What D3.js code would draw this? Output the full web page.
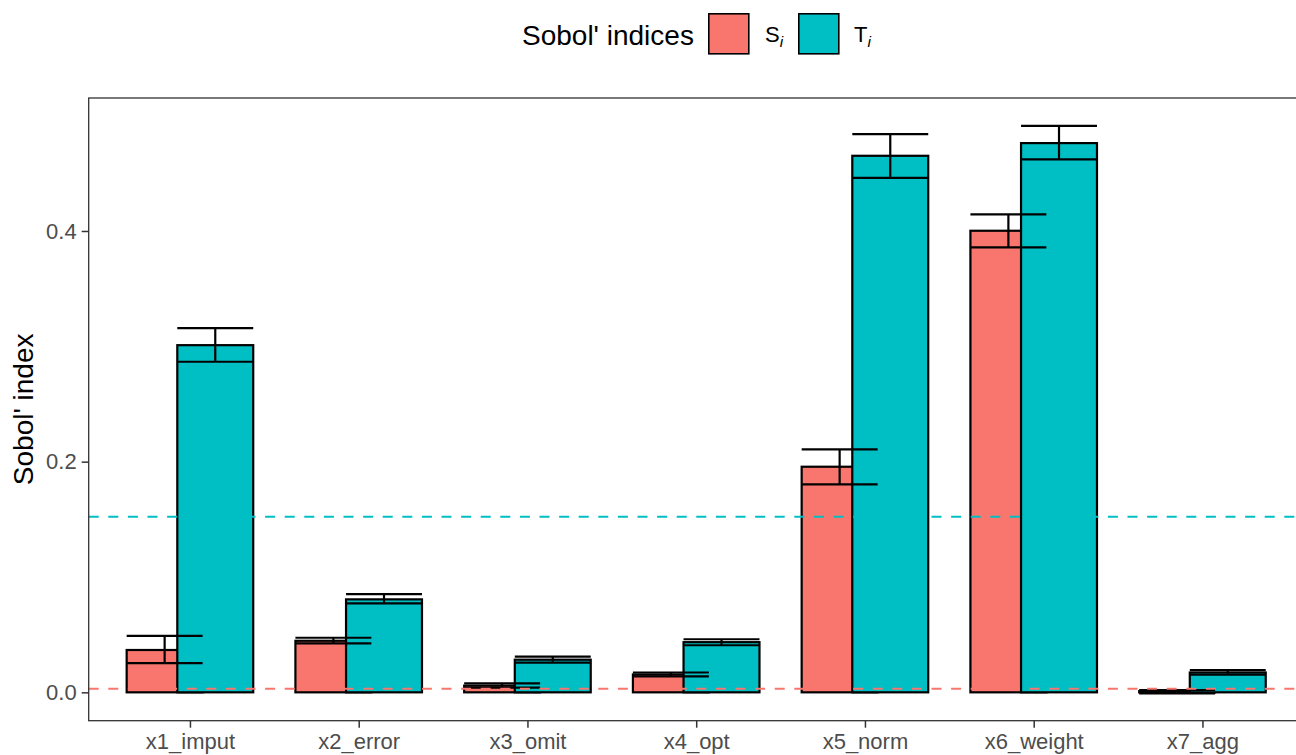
<!DOCTYPE html>
<html>
<head>
<meta charset="utf-8">
<script src="https://cdn.jsdelivr.net/npm/d3@7"></script>
<style>
  html, body { margin: 0; padding: 0; background: #fff; }
  svg { display: block; font-family: "Liberation Sans", Arial, sans-serif; }
</style>
</head>
<body>
<svg id="chart" width="1296" height="755"></svg>
<script>
const categories = ["x1_imput", "x2_error", "x3_omit", "x4_opt", "x5_norm", "x6_weight", "x7_agg"];
const S      = [0.0367, 0.0447, 0.0058, 0.0155, 0.1956, 0.4002, 0.0010];
const S_low  = [0.0254, 0.0425, 0.0040, 0.0138, 0.1803, 0.3858, -0.0010];
const S_high = [0.0490, 0.0473, 0.0078, 0.0172, 0.2107, 0.4144, 0.0020];
const T      = [0.3010, 0.0806, 0.0283, 0.0435, 0.4652, 0.4762, 0.0172];
const T_low  = [0.2866, 0.0772, 0.0257, 0.0408, 0.4461, 0.4621, 0.0153];
const T_high = [0.3158, 0.0852, 0.0309, 0.0460, 0.4840, 0.4912, 0.0193];
const yTicks = [0.0, 0.2, 0.4];
const dummyS = 0.0031;
const dummyT = 0.1523;
const seriesNames = ["S", "T"];
const seriesColors = ["#F8766D", "#00BFC4"];

const svg = d3.select("#chart");
const panel = { left: 88.7, top: 98, bottom: 720.7, right: 1303.7 };

const x = d3.scalePoint().domain(categories).range([panel.left, panel.right]).padding(0.6);
const step = x.step();
const barW = 0.45 * step;
const dodge = 0.15 * step;
const y = d3.scaleLinear().domain([-0.0246, 0.5153]).range([panel.bottom, panel.top]);

const series = [
  { name: "S", vals: S, lo: S_low, hi: S_high, off: -dodge, color: seriesColors[0] },
  { name: "T", vals: T, lo: T_low, hi: T_high, off: dodge, color: seriesColors[1] }
];

const g = svg.append("g");

// bars
series.forEach(s => {
  g.selectAll(null).data(categories).enter().append("rect")
    .attr("x", d => x(d) + s.off - barW / 2)
    .attr("width", barW)
    .attr("y", (d, i) => y(Math.max(0, s.vals[i])))
    .attr("height", (d, i) => Math.abs(y(0) - y(s.vals[i])))
    .attr("fill", s.color)
    .attr("stroke", "#000")
    .attr("stroke-width", 2.2);
});

// error bars
series.forEach(s => {
  const eb = g.selectAll(null).data(categories).enter().append("g")
    .attr("stroke", "#000").attr("stroke-width", 2.2).attr("fill", "none");
  eb.append("line")
    .attr("x1", d => x(d) + s.off).attr("x2", d => x(d) + s.off)
    .attr("y1", (d, i) => y(s.lo[i])).attr("y2", (d, i) => y(s.hi[i]));
  eb.append("line")
    .attr("x1", d => x(d) + s.off - barW / 2).attr("x2", d => x(d) + s.off + barW / 2)
    .attr("y1", (d, i) => y(s.hi[i])).attr("y2", (d, i) => y(s.hi[i]));
  eb.append("line")
    .attr("x1", d => x(d) + s.off - barW / 2).attr("x2", d => x(d) + s.off + barW / 2)
    .attr("y1", (d, i) => y(s.lo[i])).attr("y2", (d, i) => y(s.lo[i]));
});

// dummy hlines
[[dummyS, seriesColors[0]], [dummyT, seriesColors[1]]].forEach(([v, c]) => {
  g.append("line")
    .attr("x1", panel.left).attr("x2", panel.right)
    .attr("y1", y(v)).attr("y2", y(v))
    .attr("stroke", c).attr("stroke-width", 2)
    .attr("stroke-dasharray", "10,9.6");
});

// panel border
svg.append("rect")
  .attr("x", panel.left).attr("y", panel.top)
  .attr("width", panel.right - panel.left).attr("height", panel.bottom - panel.top)
  .attr("fill", "none").attr("stroke", "#333333").attr("stroke-width", 1.3);

// y axis
const yAxis = d3.axisLeft(y).tickValues(yTicks).tickFormat(d3.format(".1f")).tickSize(7).tickPadding(5);
const ya = svg.append("g").attr("transform", `translate(${panel.left},0)`).call(yAxis);
ya.select(".domain").remove();
ya.selectAll(".tick line").attr("stroke", "#333333").attr("stroke-width", 1.5);
ya.selectAll(".tick text").attr("fill", "#4D4D4D").style("font-size", "22px")
  .style("font-family", "'Liberation Sans', Arial, sans-serif");

// x axis
const xAxis = d3.axisBottom(x).tickSize(7).tickPadding(6);
const xa = svg.append("g").attr("transform", `translate(0,${panel.bottom})`).call(xAxis);
xa.select(".domain").remove();
xa.selectAll(".tick line").attr("stroke", "#333333").attr("stroke-width", 1.5);
xa.selectAll(".tick text").attr("fill", "#4D4D4D").style("font-size", "22px")
  .style("font-family", "'Liberation Sans', Arial, sans-serif");

// y title
svg.append("text")
  .attr("transform", `translate(33,${(panel.top + panel.bottom) / 2}) rotate(-90)`)
  .attr("text-anchor", "middle")
  .style("font-size", "28px").attr("fill", "#000")
  .text("Sobol' index");

// legend
const leg = svg.append("g");
leg.append("text").attr("x", 522).attr("y", 45.4)
  .style("font-size", "28px").attr("fill", "#000").text("Sobol' indices");
const keyX = [708, 798];
const labX = [765, 854];
seriesNames.forEach((n, i) => {
  leg.append("rect").attr("x", keyX[i] + 0.8).attr("y", 13.8).attr("width", 40).attr("height", 40)
    .attr("fill", seriesColors[i]).attr("stroke", "#000").attr("stroke-width", 1.6);
  const t = leg.append("text").attr("x", labX[i]).attr("y", 41.5)
    .style("font-size", "22px").attr("fill", "#000");
  t.append("tspan").text(n);
  t.append("tspan").attr("dy", 5).style("font-size", "15.5px").style("font-style", "italic").text("i");
});
</script>
</body>
</html>
